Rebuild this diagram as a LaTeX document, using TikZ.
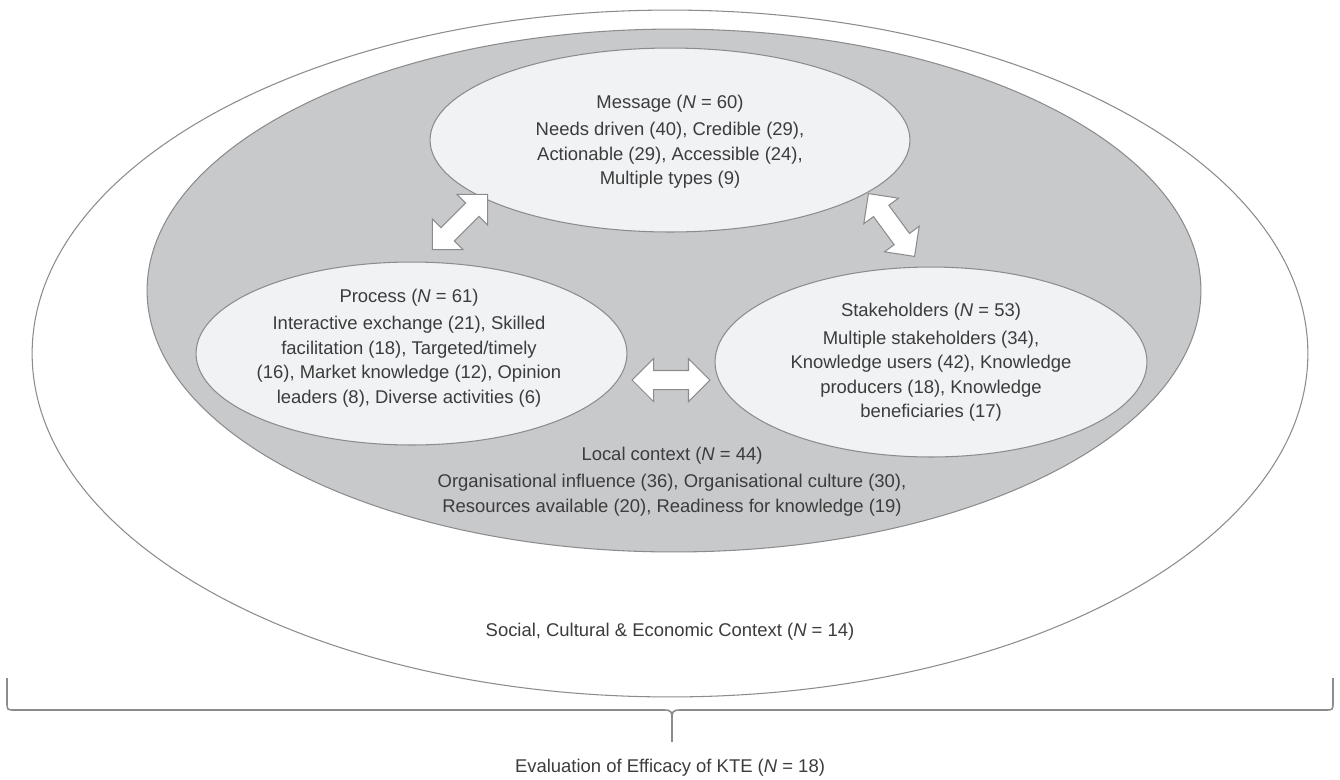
\documentclass[tikz,border=0pt]{standalone}
\usepackage{fontspec}
\setmainfont{Liberation Sans}
\usetikzlibrary{shapes.geometric,shapes.arrows}
\definecolor{linegray}{HTML}{8C8C8E}
\definecolor{midgray}{HTML}{C8C9CB}
\definecolor{palegray}{HTML}{F1F2F4}
\definecolor{textgray}{HTML}{3C3C3C}
\tikzset{
	ring/.style={ellipse, draw=linegray, line width=0.6pt, inner sep=0pt},
	bubble/.style={ring, fill=palegray},
	txt/.style={align=center, text=textgray, font=\fontsize{10.5}{14}\selectfont, inner sep=0pt},
	swap/.style={double arrow, draw=linegray, fill=white, line width=0.6pt, inner xsep=0pt, inner ysep=0.18cm,
		minimum height=1.56cm, double arrow head extend=0.24cm}
}
\begin{document}
\begin{tikzpicture}[x=0.02cm,y=-0.02cm]
		\useasboundingbox (0,0) rectangle (1340,779);
		\node(outer)[ring, fill=white, minimum width=25.52cm, minimum height=13.74cm] at (670,353.5) {};
		\node(context)[ring, fill=midgray, minimum width=21.08cm, minimum height=10.46cm] at (674,290.5) {};
		%%%%%%%
		\node(msg)[bubble, minimum width=9.6cm, minimum height=3.68cm] at (670,140) {};
		\node(proc)[bubble, minimum width=8.62cm, minimum height=3.66cm] at (411.5,353.5) {};
		\node(stake)[bubble, minimum width=8.64cm, minimum height=3.8cm] at (931,362) {};
		%%%%%%%
		\node(a1)[swap, rotate=45] at (460,222) {};
		\node(a2)[swap, rotate=-53.7] at (891.5,225) {};
		\node(a3)[swap] at (671,380) {};
		%%%%%%%
		\node(msgtext)[txt] at (670,142) {Message (\textit{N} = 60)\\[1.5pt]
			Needs driven (40), Credible (29),\\ Actionable (29), Accessible (24),\\ Multiple types (9)};
		\node(proctext)[txt] at (409,348) {Process (\textit{N} = 61)\\[1.5pt]
			Interactive exchange (21), Skilled\\ facilitation (18), Targeted/timely\\
			(16), Market knowledge (12), Opinion\\ leaders (8), Diverse activities (6)};
		\node(staketext)[txt] at (931,362.5) {Stakeholders (\textit{N} = 53)\\[1.5pt]
			Multiple stakeholders (34),\\ Knowledge users (42), Knowledge\\
			producers (18), Knowledge\\ beneficiaries (17)};
		\node(contexttext)[txt] at (672,481.5) {Local context (\textit{N} = 44)\\[1.5pt]
			Organisational influence (36), Organisational culture (30),\\
			Resources available (20), Readiness for knowledge (19)};
		\node(outertext)[txt] at (670,632) {Social, Cultural \& Economic Context (\textit{N} = 14)};
		%%%%%%%
		\draw[linegray, line width=0.9pt] (7,678) -- (7,702) .. controls (7,710) .. (15,710) -- (662,710)
			.. controls (672,710) .. (672,724) .. controls (672,710) .. (682,710) -- (1325,710)
			.. controls (1333,710) .. (1333,702) -- (1333,678);
		\coordinate(tip) at (672,724);
		\coordinate(tipend) at (672,742);
		\node(evaltext)[txt] at (670,768) {Evaluation of Efficacy of KTE (\textit{N} = 18)};
		\draw[linegray, line width=0.9pt] (tip) -- (tipend);
\end{tikzpicture}
\end{document}
